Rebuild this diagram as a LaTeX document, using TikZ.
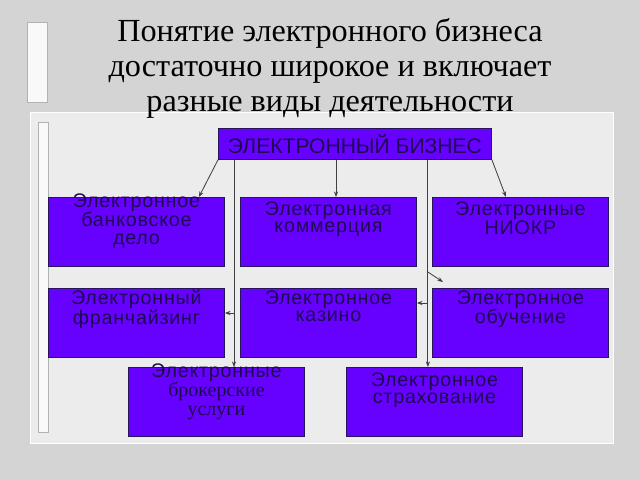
\documentclass[tikz,border=0pt]{standalone}
\usepackage{fontspec}
\setmainfont{Liberation Serif}
\setsansfont{Liberation Sans}
\newfontfamily\boxfont[LetterSpace=4]{Liberation Sans}
\usetikzlibrary{arrows.meta, calc}

\definecolor{boxfill}{RGB}{102,0,255}
\definecolor{boxtext}{RGB}{30,10,80}
\definecolor{boxline}{RGB}{40,20,90}
\definecolor{marble}{RGB}{212,212,212}
\definecolor{panel}{RGB}{236,236,236}

\begin{document}
\begin{tikzpicture}[x=0.025cm, y=-0.025cm,
    box/.style={rectangle, draw=boxline, fill=boxfill, line width=0.6pt, inner sep=0pt,
        minimum width=4.4cm, minimum height=1.725cm, anchor=north west},
    txt/.style={anchor=north, inner sep=0pt, align=center, text=boxtext,
        font=\boxfont\fontsize{14}{12.4}\selectfont},
    arr/.style={draw=black!75, line width=0.6pt, -{Stealth[length=4pt, width=3pt]}}]
    % 背景
    \fill[marble] (0,0) rectangle (640,480);
    \useasboundingbox (0,0) rectangle (640,480);
    \draw[gray!60, fill=white!95!gray] (27,22) rectangle (47,102);
    \draw[white, fill=panel] (30,112) rectangle (613,443);
    \draw[gray!60, fill=white!95!gray] (38,122) rectangle (48,432);

    % 标题
    \node[align=center, font=\fontsize{22.9}{24.9}\selectfont] (title) at (330,68)
        {Понятие электронного бизнеса\\достаточно широкое и включает\\разные виды деятельности};

    % 顶部框
    \node[box, minimum width=6.825cm, minimum height=0.775cm, text=boxtext,
        font=\sffamily\fontsize{15}{15}\selectfont] (eb) at (218,128) {ЭЛЕКТРОННЫЙ БИЗНЕС};

    % 画8个框框
    \foreach \n/\x/\y in {bank/48/197, comm/240/197, niokr/432/197,
                          franch/48/288, casino/240/288, learn/432/288,
                          broker/128/367, insur/346/367} {
        \node[box] (\n) at (\x,\y) {};
    }

    % 填文字
    \node[txt] (bank-t) at ($(bank.north)+(0,-4)$) {Электронное\\банковское\\дело};
    \node[txt] (comm-t) at ($(comm.north)+(0,4)$) {Электронная\\коммерция};
    \node[txt] (niokr-t) at ($(niokr.north)+(0,4)$) {Электронные\\НИОКР};
    \node[txt] (franch-t) at ($(franch.north)+(0,2)$) {Электронный\\франчайзинг};
    \node[txt] (casino-t) at ($(casino.north)+(0,2)$) {Электронное\\казино};
    \node[txt] (learn-t) at ($(learn.north)+(0,2)$) {Электронное\\обучение};
    \node[txt] (broker-t) at ($(broker.north)+(0,-4)$)
        {Электронные\\{\rmfamily\fontsize{14.2}{14.2}\selectfont брокерские}\\[1pt]
         {\rmfamily\fontsize{14.2}{14.2}\selectfont услуги}};
    \node[txt] (insur-t) at ($(insur.north)+(0,5)$) {Электронное\\страхование};

    % 连线
    \coordinate (tl) at ($(eb.south west)+(16,0)$);
    \coordinate (tm) at ($(eb.south west)+(118,0)$);
    \coordinate (tr) at ($(eb.south east)+(-64,0)$);
    \coordinate (lt) at ($(learn.north west)+(11,-6)$);
    \draw[arr] (eb.south west) -- ($(bank.north east)+(-26,0)$);
    \draw[arr] (tm) -- (tm |- comm.north);
    \draw[arr] (eb.south east) -- ($(niokr.north west)+(74,0)$);
    \draw[arr] (tl) -- (tl |- broker.north);
    \draw[arr] ($(tl |- franch.north)+(0,25)$) -- ($(franch.north east)+(0,25)$);
    \draw[arr] (tr) -- (tr |- insur.north);
    \draw[arr] ($(tr |- learn.north)+(0,-16)$) -- (lt);
    \draw[arr] ($(tr |- casino.north)+(0,15)$) -- ($(casino.north east)+(0,15)$);
\end{tikzpicture}
\end{document}
